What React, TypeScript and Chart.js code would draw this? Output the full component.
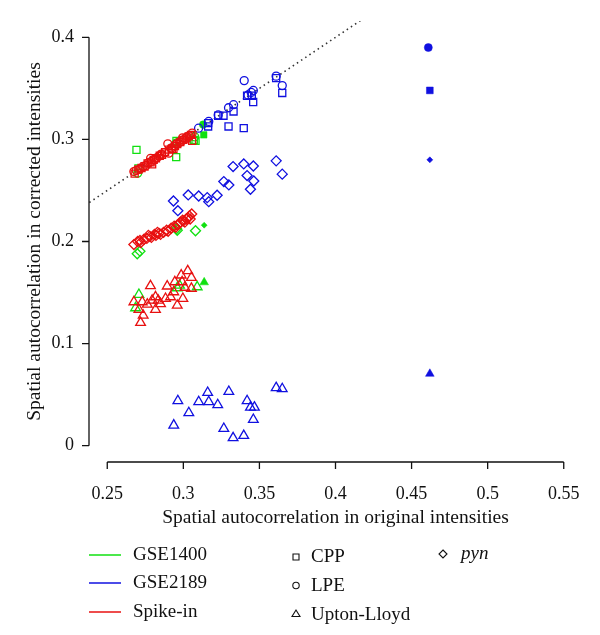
import React, { useEffect, useRef } from "react";
import { Chart, registerables } from "chart.js";
Chart.register(...registerables);

type P = [number, number];

// ---------- axes ----------
const X_LIMITS: P = [0.25, 0.55];
const Y_LIMITS: P = [0, 0.4];
const X_TICKS = [0.25, 0.3, 0.35, 0.4, 0.45, 0.5, 0.55];
const X_TICK_LABELS = ["0.25", "0.3", "0.35", "0.4", "0.45", "0.5", "0.55"];
const Y_TICKS = [0, 0.1, 0.2, 0.3, 0.4];
const Y_TICK_LABELS = ["0", "0.1", "0.2", "0.3", "0.4"];
const X_TITLE = "Spatial autocorrelation in original intensities";
const Y_TITLE = "Spatial autocorrelation in corrected intensities";

// identity reference line y = x
const REF_LINE: P[] = [[0.2, 0.2], [0.46, 0.46]];

// ---------- GSE1400 (green) ----------
const gse1400_CPP: P[] = [[0.2692, 0.2898], [0.2953, 0.2826], [0.308, 0.2986], [0.2705, 0.2715], [0.2955, 0.2985], [0.3069, 0.2996]];
const gse1400_LPE: P[] = [[0.270, 0.267], [0.2955, 0.2965], [0.3075, 0.3025]];
const gse1400_UL: P[] = [[0.2708, 0.148], [0.2686, 0.1349], [0.3091, 0.1555], [0.296, 0.1545], [0.2975, 0.157]];
const gse1400_PYN: P[] = [[0.2697, 0.188], [0.2715, 0.1905], [0.308, 0.2105], [0.296, 0.211], [0.2955, 0.2125]];
const gse1400_mean_CPP: P[] = [[0.3134, 0.3045]];
const gse1400_mean_LPE: P[] = [[0.313, 0.3145]];
const gse1400_mean_UL: P[] = [[0.3137, 0.16]];
const gse1400_mean_PYN: P[] = [[0.3137, 0.216]];

// ---------- GSE2189 (blue) ----------
const gse2189_CPP: P[] = [[0.361, 0.360], [0.365, 0.3455], [0.3459, 0.3366], [0.3419, 0.3428], [0.345, 0.3428], [0.333, 0.3274], [0.3264, 0.3232], [0.3229, 0.3232], [0.3397, 0.311], [0.3297, 0.3127], [0.3163, 0.3127], [0.3163, 0.316]];
const gse2189_LPE: P[] = [[0.340, 0.3576], [0.361, 0.362], [0.365, 0.3527], [0.346, 0.348], [0.3446, 0.346], [0.3425, 0.3435], [0.333, 0.334], [0.3297, 0.331], [0.3229, 0.324], [0.3167, 0.3176], [0.310, 0.311]];
const gse2189_UL: P[] = [[0.361, 0.0567], [0.365, 0.0557], [0.3299, 0.053], [0.316, 0.052], [0.2964, 0.0439], [0.3101, 0.0429], [0.3167, 0.0429], [0.3226, 0.04], [0.3419, 0.0439], [0.3441, 0.0376], [0.3467, 0.0376], [0.3036, 0.0321], [0.346, 0.0255], [0.2937, 0.02], [0.3266, 0.0167], [0.3397, 0.0098], [0.3327, 0.0076]];
const gse2189_PYN: P[] = [[0.361, 0.279], [0.365, 0.266], [0.3397, 0.276], [0.346, 0.274], [0.3327, 0.2734], [0.3419, 0.2646], [0.3463, 0.2593], [0.3441, 0.2512], [0.3266, 0.2587], [0.3299, 0.2554], [0.3222, 0.2453], [0.3157, 0.243], [0.3167, 0.239], [0.3101, 0.2446], [0.3032, 0.2456], [0.2935, 0.2397], [0.2964, 0.2302]];
const gse2189_mean_CPP: P[] = [[0.462, 0.348]];
const gse2189_mean_LPE: P[] = [[0.461, 0.39]];
const gse2189_mean_UL: P[] = [[0.462, 0.0704]];
const gse2189_mean_PYN: P[] = [[0.462, 0.28]];

// ---------- Spike-in (red) ----------
const spike_CPP: P[] = [[0.268, 0.2665], [0.2705, 0.2705], [0.2725, 0.272], [0.2745, 0.2735], [0.2765, 0.2765], [0.2785, 0.2775], [0.2805, 0.28], [0.282, 0.2815], [0.2845, 0.284], [0.286, 0.285], [0.288, 0.2875], [0.2905, 0.29], [0.2925, 0.291], [0.2945, 0.2935], [0.296, 0.2955], [0.298, 0.2975], [0.3, 0.2995], [0.302, 0.301], [0.3035, 0.303], [0.3058, 0.2986], [0.305, 0.3045], [0.2935, 0.2905], [0.2795, 0.2755]];
const spike_LPE: P[] = [[0.2675, 0.2685], [0.269, 0.2695], [0.2715, 0.271], [0.2735, 0.2735], [0.2755, 0.2745], [0.277, 0.277], [0.279, 0.2785], [0.281, 0.2805], [0.2825, 0.282], [0.284, 0.2835], [0.2855, 0.2855], [0.2875, 0.287], [0.2898, 0.2957], [0.2905, 0.2866], [0.292, 0.2915], [0.294, 0.2935], [0.2955, 0.2955], [0.2975, 0.297], [0.299, 0.2985], [0.301, 0.3005], [0.3025, 0.3025], [0.304, 0.3035], [0.3058, 0.3062], [0.2995, 0.3015], [0.2785, 0.2815]];
const spike_UL: P[] = [[0.3029, 0.1712], [0.2986, 0.167], [0.3053, 0.1647], [0.2784, 0.1565], [0.2894, 0.1562], [0.2944, 0.1604], [0.2992, 0.1604], [0.3053, 0.154], [0.301, 0.155], [0.2937, 0.1506], [0.2817, 0.1457], [0.2795, 0.1424], [0.2835, 0.1424], [0.2675, 0.1408], [0.273, 0.1408], [0.2763, 0.1385], [0.2883, 0.1441], [0.2997, 0.1441], [0.296, 0.1375], [0.2817, 0.1333], [0.2708, 0.1333], [0.2736, 0.1277], [0.2719, 0.1205], [0.285, 0.139], [0.2916, 0.1457]];
const spike_PYN: P[] = [[0.2675, 0.197], [0.270, 0.200], [0.272, 0.199], [0.274, 0.202], [0.276, 0.203], [0.278, 0.205], [0.279, 0.204], [0.281, 0.207], [0.282, 0.206], [0.284, 0.208], [0.285, 0.207], [0.287, 0.209], [0.289, 0.211], [0.290, 0.210], [0.292, 0.213], [0.294, 0.215], [0.295, 0.214], [0.297, 0.217], [0.298, 0.219], [0.300, 0.220], [0.301, 0.219], [0.302, 0.222], [0.303, 0.223], [0.304, 0.225], [0.3055, 0.227], [0.3045, 0.222], [0.2995, 0.221], [0.296, 0.216], [0.277, 0.206], [0.283, 0.209], [0.2715, 0.201]];

// ---------- legend ----------
const LEGEND_SERIES = ["GSE1400", "GSE2189", "Spike-in"];
const LEGEND_METHODS = ["CPP", "LPE", "Upton-Lloyd"];
const LEGEND_EXTRA = "pyn";

const GREEN = "#10e010";
const BLUE = "#1010e0";
const RED = "#e81010";
const SERIES_COLORS = [GREEN, BLUE, RED];
const FONT = "'Liberation Serif', 'DejaVu Serif', serif";

const toXY = (a: P[]) => a.map(([x, y]) => ({ x, y }));

function open(data: P[], color: string, style: string, r: number, order: number) {
  return {
    type: "scatter" as const,
    data: toXY(data),
    pointStyle: style,
    pointRadius: r,
    pointBorderWidth: 1.3,
    pointBorderColor: color,
    pointBackgroundColor: "rgba(0,0,0,0)",
    borderColor: color,
    backgroundColor: "rgba(0,0,0,0)",
    order,
    clip: false as any,
  };
}
function filled(data: P[], color: string, style: string, r: number, order: number) {
  return {
    type: "scatter" as const,
    data: toXY(data),
    pointStyle: style,
    pointRadius: r,
    pointBorderWidth: 0.5,
    pointBorderColor: color,
    pointBackgroundColor: color,
    borderColor: color,
    backgroundColor: color,
    order,
    clip: false as any,
  };
}

const R_SQ = 5, R_CI = 4, R_TR = 5.6, R_DI = 5;

const axesPlugin = {
  id: "rAxes",
  afterDraw(chart: any) {
    const { ctx, chartArea, scales } = chart;
    const xs = scales.x, ys = scales.y;
    ctx.save();
    ctx.strokeStyle = "#111";
    ctx.fillStyle = "#111";
    ctx.lineWidth = 1.3;
    // x axis
    const yb = chartArea.bottom;
    ctx.beginPath();
    ctx.moveTo(xs.getPixelForValue(X_TICKS[0]), yb);
    ctx.lineTo(xs.getPixelForValue(X_TICKS[X_TICKS.length - 1]), yb);
    X_TICKS.forEach((t) => {
      const px = xs.getPixelForValue(t);
      ctx.moveTo(px, yb);
      ctx.lineTo(px, yb + 7);
    });
    ctx.stroke();
    ctx.font = `18px ${FONT}`;
    ctx.textAlign = "center";
    ctx.textBaseline = "middle";
    X_TICKS.forEach((t, i) => ctx.fillText(X_TICK_LABELS[i], xs.getPixelForValue(t), yb + 32));
    // y axis
    const xl = chartArea.left;
    ctx.beginPath();
    ctx.moveTo(xl, ys.getPixelForValue(Y_TICKS[0]));
    ctx.lineTo(xl, ys.getPixelForValue(Y_TICKS[Y_TICKS.length - 1]));
    Y_TICKS.forEach((t) => {
      const py = ys.getPixelForValue(t);
      ctx.moveTo(xl, py);
      ctx.lineTo(xl - 7, py);
    });
    ctx.stroke();
    ctx.textAlign = "right";
    Y_TICKS.forEach((t, i) => ctx.fillText(Y_TICK_LABELS[i], xl - 15, ys.getPixelForValue(t)));
    // titles
    ctx.font = `19.5px ${FONT}`;
    ctx.textAlign = "center";
    const xmid = (xs.getPixelForValue(X_TICKS[0]) + xs.getPixelForValue(X_TICKS[X_TICKS.length - 1])) / 2;
    ctx.fillText(X_TITLE, xmid, yb + 56);
    const ymid = (ys.getPixelForValue(Y_TICKS[0]) + ys.getPixelForValue(Y_TICKS[Y_TICKS.length - 1])) / 2;
    ctx.save();
    ctx.translate(35, ymid);
    ctx.rotate(-Math.PI / 2);
    ctx.fillText(Y_TITLE, 0, 0);
    ctx.restore();

    // legend
    ctx.font = `19px ${FONT}`;
    ctx.textAlign = "left";
    const rows1 = [555, 583, 612];
    LEGEND_SERIES.forEach((s, i) => {
      ctx.strokeStyle = SERIES_COLORS[i];
      ctx.lineWidth = 1.5;
      ctx.beginPath();
      ctx.moveTo(89, rows1[i]);
      ctx.lineTo(121, rows1[i]);
      ctx.stroke();
      ctx.fillStyle = "#111";
      ctx.fillText(s, 133, rows1[i]);
    });
    const rows2 = [557, 586, 615];
    ctx.strokeStyle = "#111";
    ctx.lineWidth = 1.1;
    LEGEND_METHODS.forEach((s, i) => {
      const cx = 296, cy = rows2[i];
      ctx.beginPath();
      if (i === 0) ctx.rect(cx - 3, cy - 3, 6, 6);
      else if (i === 1) ctx.arc(cx, cy - 0.5, 3.2, 0, Math.PI * 2);
      else {
        ctx.moveTo(cx, cy - 5);
        ctx.lineTo(cx + 4, cy + 1.5);
        ctx.lineTo(cx - 4, cy + 1.5);
        ctx.closePath();
      }
      ctx.stroke();
      ctx.fillText(s, 311, cy);
    });
    // pyn
    {
      const cx = 443, cy = 554;
      ctx.beginPath();
      ctx.moveTo(cx, cy - 4);
      ctx.lineTo(cx + 4, cy);
      ctx.lineTo(cx, cy + 4);
      ctx.lineTo(cx - 4, cy);
      ctx.closePath();
      ctx.stroke();
      ctx.font = `italic 19px ${FONT}`;
      ctx.fillText(LEGEND_EXTRA, 461, cy);
    }
    ctx.restore();
  },
};

export default function App() {
  const ref = useRef<HTMLCanvasElement | null>(null);
  useEffect(() => {
    if (!ref.current) return;
    const xPad = (X_LIMITS[1] - X_LIMITS[0]) * 0.04;
    const yPad = (Y_LIMITS[1] - Y_LIMITS[0]) * 0.04;
    const datasets: any[] = [
      {
        type: "line",
        data: toXY(REF_LINE),
        borderColor: "#333",
        borderWidth: 1.6,
        borderDash: [1.5, 3.5],
        pointRadius: 0,
        fill: false,
        order: 100,
        clip: 0,
      },
      open(gse1400_CPP, GREEN, "rect", R_SQ, 90),
      open(gse1400_LPE, GREEN, "circle", R_CI, 90),
      open(gse1400_UL, GREEN, "triangle", R_TR, 90),
      open(gse1400_PYN, GREEN, "rectRot", R_DI, 90),
      filled(gse1400_mean_CPP, GREEN, "rect", 4.6, 89),
      filled(gse1400_mean_LPE, GREEN, "circle", 3.8, 89),
      filled(gse1400_mean_UL, GREEN, "triangle", 5, 89),
      filled(gse1400_mean_PYN, GREEN, "rectRot", 3, 89),
      open(gse2189_CPP, BLUE, "rect", R_SQ, 80),
      open(gse2189_LPE, BLUE, "circle", R_CI, 80),
      open(gse2189_UL, BLUE, "triangle", R_TR, 80),
      open(gse2189_PYN, BLUE, "rectRot", R_DI, 80),
      filled(gse2189_mean_CPP, BLUE, "rect", 4.8, 79),
      filled(gse2189_mean_LPE, BLUE, "circle", 4, 79),
      filled(gse2189_mean_UL, BLUE, "triangle", 5, 79),
      filled(gse2189_mean_PYN, BLUE, "rectRot", 3, 79),
      open(spike_CPP, RED, "rect", R_SQ, 70),
      open(spike_LPE, RED, "circle", R_CI, 70),
      open(spike_UL, RED, "triangle", R_TR, 70),
      open(spike_PYN, RED, "rectRot", R_DI, 70),
    ];
    const chart = new Chart(ref.current, {
      type: "scatter",
      data: { datasets },
      options: {
        responsive: false,
        animation: false,
        events: [],
        layout: { padding: { left: 89, right: 18, top: 21, bottom: 173 } },
        plugins: { legend: { display: false }, tooltip: { enabled: false } },
        scales: {
          x: { type: "linear", display: false, min: X_LIMITS[0] - xPad, max: X_LIMITS[1] + xPad },
          y: { type: "linear", display: false, min: Y_LIMITS[0] - yPad, max: Y_LIMITS[1] + yPad },
        },
      },
      plugins: [axesPlugin],
    });
    return () => chart.destroy();
  }, []);
  return (
    <div style={{ position: "absolute", left: 0, top: 0, width: 600, height: 635, background: "#fff" }}>
      <canvas ref={ref} width={600} height={635} style={{ display: "block" }} />
    </div>
  );
}
